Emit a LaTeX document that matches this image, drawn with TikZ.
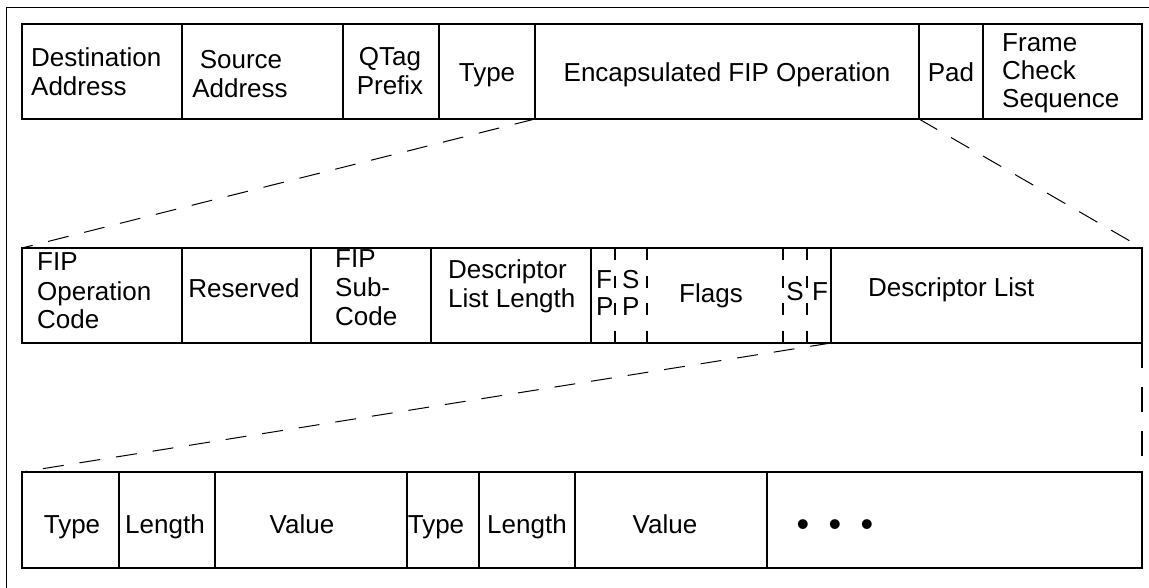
\documentclass[tikz,border=0pt]{standalone}
\usepackage{fontspec}
\setmainfont{Liberation Sans}
\newcommand\fcell[5]{\node[cell, minimum width={(#4-#2)*1pt}, minimum height={(#5-#3)*1pt}] (#1) at ({(#2+#4)/2},{(#3+#5)/2}) {};}
\begin{document}
\begin{tikzpicture}[x=1pt,y=-1pt,
  cell/.style={draw, line width=1.6pt, inner sep=0pt, outer sep=0pt, rectangle},
  lbl/.style={font=\fontsize{26}{28.5}\selectfont, inner sep=0pt},
  conn/.style={line width=1pt, dash pattern=on 21pt off 16pt},
  vdash/.style={line width=1.8pt, dash pattern=on 25pt off 19pt},
  fdash/.style={line width=1.6pt, dash pattern=on 12pt off 15.67pt}]
\useasboundingbox (0,0) rectangle (1149,588);
% outer frame (clipped at right and bottom)
\draw[line width=1.6pt] (6.5,588) -- (6.5,7.5) -- (1149,7.5);
% row 1
\fcell{dst}{22}{24}{182}{119}
\fcell{src}{182}{24}{343}{119}
\fcell{qtag}{343}{24}{439}{119}
\fcell{typ}{439}{24}{535}{119}
\fcell{encap}{535}{24}{919}{119}
\fcell{pad}{919}{24}{983}{119}
\fcell{fcs}{983}{24}{1142}{119}
% row 2
\fcell{foc}{22}{248}{182}{343}
\fcell{res}{182}{248}{311}{343}
\fcell{sub}{311}{248}{431}{343}
\fcell{dll}{431}{248}{591}{343}
\fcell{flags}{591}{248}{831}{343}
\fcell{dlist}{831}{248}{1142}{343}
\draw[fdash] (615,248) -- (615,343);
\draw[fdash] (647,248) -- (647,343);
\draw[fdash] (783,248) -- (783,343);
\draw[fdash] (807,248) -- (807,343);
% row 3
\fcell{tA}{22}{472}{119}{568}
\fcell{lA}{119}{472}{215}{568}
\fcell{vA}{215}{472}{407}{568}
\fcell{tB}{407}{472}{479}{568}
\fcell{lB}{479}{472}{575}{568}
\fcell{vB}{575}{472}{767}{568}
\fcell{more}{767}{472}{1142}{568}
% connectors
\draw[conn] (encap.south west) -- (foc.north west);
\draw[conn] (pad.south west) -- (dlist.north east);
\draw[conn] (dlist.south west) -- (tA.north west);
\draw[vdash] (dlist.south east) -- (more.north east);
% row 1 labels
\node[lbl, anchor=base west] (dst1) at (31,67) {Destination};
\node[lbl, anchor=base west] (dst2) at (31,96) {Address};
\node[lbl, anchor=base] (src1) at (241,69) {Source};
\node[lbl, anchor=base] (src2) at (240,98) {Address};
\node[lbl, anchor=base] (qt1) at (390,66) {QTag};
\node[lbl, anchor=base] (qt2) at (390,95) {Prefix};
\node[lbl, anchor=base] (typ1) at (487,82) {Type};
\node[lbl, anchor=base] (enc1) at (727,82) {Encapsulated FIP Operation};
\node[lbl, anchor=base] (pad1) at (951,82) {Pad};
\node[lbl, anchor=base west] (fcs1) at (1002,52) {Frame};
\node[lbl, anchor=base west] (fcs2) at (1002,80) {Check};
\node[lbl, anchor=base west] (fcs3) at (1002,108) {Sequence};
% row 2 labels
\node[lbl, anchor=base west] (foc1) at (37,271) {FIP};
\node[lbl, anchor=base west] (foc2) at (37,300) {Operation};
\node[lbl, anchor=base west] (foc3) at (37,328) {Code};
\node[lbl, anchor=base] (res1) at (244,298) {Reserved};
\node[lbl, anchor=base west] (sub1) at (335,268) {FIP};
\node[lbl, anchor=base west] (sub2) at (335,296) {Sub-};
\node[lbl, anchor=base west] (sub3) at (335,325) {Code};
\node[lbl, anchor=base west] (dll1) at (448,279) {Descriptor};
\node[lbl, anchor=base west] (dll2) at (448,307) {List Length};
\node[lbl, anchor=base west] (fp1) at (596,288) {F};
\node[lbl, anchor=base west] (fp2) at (596,315) {P};
\node[lbl, anchor=base west] (sp1) at (622,288) {S};
\node[lbl, anchor=base west] (sp2) at (622,315) {P};
\node[lbl, anchor=base] (flg) at (711,302) {Flags};
\node[lbl, anchor=base] (sflag) at (795,301) {S};
\node[lbl, anchor=base] (fflag) at (820,301) {F};
\node[lbl, anchor=base west] (dl1) at (868,297) {Descriptor List};
% row 3 labels
\node[lbl, anchor=base] (tA1) at (72,533) {Type};
\node[lbl, anchor=base] (lA1) at (165,533) {Length};
\node[lbl, anchor=base] (vA1) at (302,533) {Value};
\node[lbl, anchor=base] (tB1) at (436,533) {Type};
\node[lbl, anchor=base] (lB1) at (527,533) {Length};
\node[lbl, anchor=base] (vB1) at (665,533) {Value};
\node[lbl, font=\fontsize{36}{40}\selectfont, anchor=base] (dots) at (835,536.5) {•\hspace{19.4pt}•\hspace{19.4pt}•};
\end{tikzpicture}
\end{document}
